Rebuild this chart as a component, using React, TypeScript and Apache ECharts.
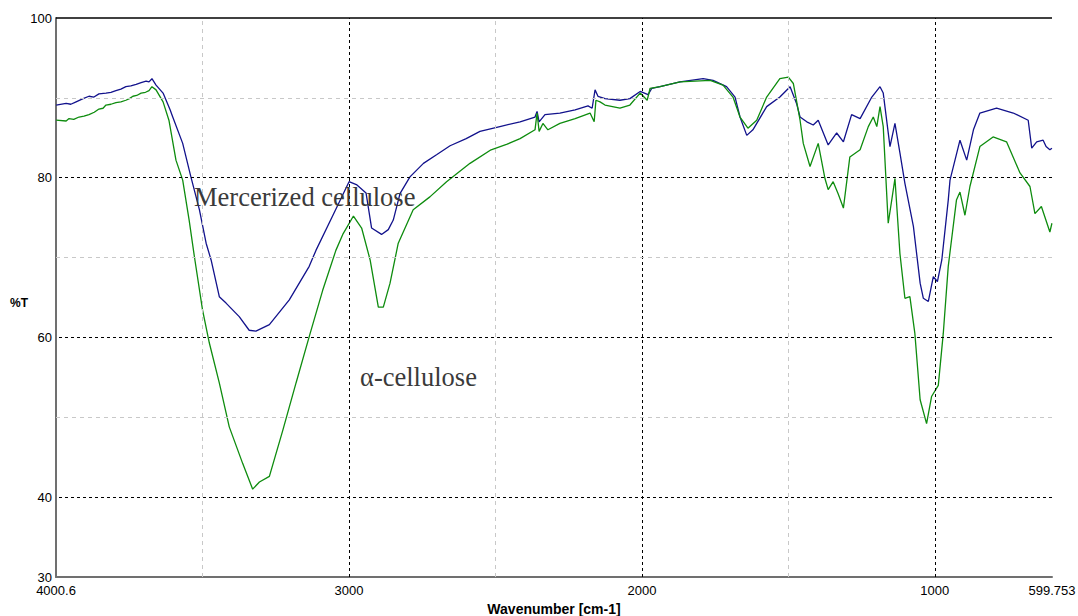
import React, { useEffect, useRef } from "react";
import * as echarts from "echarts";

// FTIR transmittance spectra, wavenumber (cm-1) vs %T
const mercWn = [4000, 3966, 3950, 3932, 3908, 3888, 3871, 3854, 3830, 3813, 3796, 3779, 3762, 3745, 3727, 3710, 3693, 3683, 3673, 3659, 3635, 3611, 3602, 3568, 3540, 3511, 3488, 3471, 3443, 3420, 3375, 3341, 3318, 3272, 3204, 3136, 3113, 3055, 3000, 2973, 2942, 2923, 2889, 2866, 2849, 2826, 2792, 2746, 2700, 2655, 2600, 2553, 2485, 2416, 2365, 2358, 2351, 2331, 2280, 2228, 2184, 2170, 2160, 2150, 2126, 2075, 2041, 2006, 1979, 1966, 1938, 1870, 1791, 1757, 1711, 1682, 1665, 1642, 1621, 1574, 1529, 1494, 1472, 1460, 1437, 1415, 1398, 1364, 1335, 1312, 1284, 1255, 1215, 1187, 1176, 1153, 1136, 1119, 1102, 1073, 1050, 1039, 1022, 1005, 991, 976, 954, 948, 914, 891, 868, 846, 789, 732, 681, 669, 652, 630, 620, 607, 600];
const mercT = [89.1, 89.3, 89.2, 89.5, 89.9, 90.2, 90.1, 90.5, 90.6, 90.7, 90.9, 91.1, 91.4, 91.5, 91.7, 91.9, 92.1, 92.0, 92.4, 91.6, 90.6, 88.5, 87.6, 84.3, 80.1, 76.0, 71.8, 69.7, 65.1, 64.3, 62.6, 60.9, 60.8, 61.6, 64.7, 68.9, 70.9, 75.3, 79.5, 79.1, 78.1, 73.7, 72.9, 73.5, 74.7, 78.0, 80.1, 81.8, 82.9, 84.0, 84.9, 85.8, 86.4, 87.0, 87.6, 88.3, 87.0, 87.9, 88.1, 88.5, 89.0, 88.7, 91.0, 90.2, 89.9, 89.7, 89.9, 90.8, 90.4, 91.2, 91.4, 92.0, 92.4, 92.2, 91.4, 90.1, 87.6, 85.3, 86.0, 88.9, 90.1, 91.4, 89.3, 87.6, 87.0, 86.6, 87.2, 84.1, 85.6, 84.5, 87.9, 87.4, 90.1, 91.4, 90.6, 83.9, 86.8, 83.1, 79.3, 73.9, 66.8, 64.9, 64.5, 67.6, 67.0, 69.7, 77.2, 79.7, 84.7, 82.2, 86.0, 88.1, 88.7, 88.1, 87.2, 83.7, 84.5, 84.7, 83.9, 83.5, 83.7];

const alphaWn = [4000, 3966, 3956, 3940, 3922, 3905, 3888, 3870, 3854, 3840, 3830, 3813, 3796, 3779, 3762, 3750, 3738, 3725, 3710, 3695, 3683, 3673, 3659, 3635, 3615, 3591, 3568, 3546, 3528, 3500, 3477, 3443, 3409, 3363, 3329, 3306, 3272, 3226, 3181, 3136, 3090, 3045, 3020, 2985, 2957, 2928, 2900, 2883, 2860, 2832, 2781, 2724, 2667, 2587, 2515, 2460, 2416, 2365, 2358, 2351, 2338, 2321, 2280, 2228, 2177, 2163, 2157, 2143, 2126, 2075, 2041, 2006, 1982, 1972, 1938, 1870, 1767, 1723, 1689, 1665, 1638, 1608, 1574, 1529, 1500, 1483, 1460, 1449, 1426, 1398, 1375, 1364, 1347, 1330, 1312, 1290, 1255, 1227, 1210, 1198, 1187, 1176, 1159, 1147, 1136, 1119, 1102, 1085, 1068, 1050, 1028, 1011, 988, 971, 954, 926, 914, 897, 880, 846, 801, 755, 709, 675, 658, 636, 607, 600];
const alphaT = [87.2, 87.1, 87.4, 87.3, 87.6, 87.7, 87.9, 88.2, 88.6, 88.7, 89.1, 89.2, 89.4, 89.5, 89.7, 89.9, 90.2, 90.3, 90.6, 90.7, 90.9, 91.4, 91.0, 89.5, 87.2, 82.2, 79.7, 74.7, 70.1, 63.4, 59.3, 54.3, 48.8, 44.2, 41.0, 41.9, 42.6, 48.4, 54.3, 60.1, 65.9, 70.9, 73.0, 75.2, 73.7, 69.7, 63.8, 63.8, 66.8, 71.8, 76.0, 77.6, 79.5, 81.8, 83.5, 84.2, 84.9, 86.0, 88.1, 85.8, 86.8, 86.0, 86.8, 87.4, 88.1, 87.0, 89.7, 89.5, 89.1, 88.7, 89.1, 90.6, 89.7, 91.2, 91.4, 92.0, 92.2, 91.6, 90.1, 87.6, 86.2, 87.2, 90.1, 92.4, 92.6, 91.8, 87.2, 84.3, 81.4, 84.3, 79.9, 78.5, 79.5, 78.0, 76.2, 82.6, 83.5, 86.4, 87.6, 86.4, 88.9, 86.4, 74.3, 77.2, 79.9, 70.5, 64.9, 65.1, 60.5, 52.2, 49.2, 52.6, 54.0, 60.5, 68.9, 77.2, 78.2, 75.3, 78.9, 83.9, 85.1, 84.5, 80.6, 78.9, 75.5, 76.4, 73.2, 74.3];

// Axis range and labels
const xMin = 599.753;
const xMax = 4000.6;
const xTickValues = [4000.6, 3000, 2000, 1000, 599.753];
const xTickLabels = ["4000.6", "3000", "2000", "1000", "599.753"];
const yTickValues = [30, 40, 60, 80, 100];
const xMajorGrid = [3000, 2000, 1000];
const xMinorGrid = [3500, 2500, 1500];
const yMajorGrid = [80, 60, 40];
const yMinorGrid = [90, 70, 50];

const seriesNames = ["Mercerized cellulose", "α-cellulose"];

const pairs = (xs: number[], ys: number[]) => xs.map((x, i) => [x, ys[i]]);

export default function App() {
  const ref = useRef<HTMLDivElement>(null);

  useEffect(() => {
    if (!ref.current) return;
    const chart = echarts.init(ref.current, null, { renderer: "svg" });

    const major = { type: [3, 3] as any, color: "#000", width: 1 };
    const minor = { type: [4, 4] as any, color: "#c8c8c8", width: 1 };

    const gridLines = [
      ...xMajorGrid.map((v) => ({ xAxis: v, lineStyle: major })),
      ...xMinorGrid.map((v) => ({ xAxis: v, lineStyle: minor })),
      ...yMajorGrid.map((v) => ({ yAxis: v, lineStyle: major })),
      ...yMinorGrid.map((v) => ({ yAxis: v, lineStyle: minor })),
      { yAxis: 100, lineStyle: { type: "solid", color: "#000", width: 1.5 } },
      { xAxis: xMin, lineStyle: { type: "solid", color: "#00e5ff", width: 2 } },
    ];

    const labelFont = { fontFamily: "Liberation Sans", fontSize: 13, color: "#000" };

    chart.setOption({
      animation: false,
      grid: { left: 56, right: 26, top: 18, bottom: 39, outerBoundsMode: "none", containLabel: false },
      xAxis: {
        type: "value",
        min: xMin,
        max: xMax,
        inverse: true,
        name: "Wavenumber [cm-1]",
        nameLocation: "middle",
        nameGap: 22,
        nameTextStyle: { fontFamily: "Liberation Sans", fontSize: 14, fontWeight: "bold", color: "#000" },
        axisLine: { show: true, onZero: false, lineStyle: { color: "#707070", width: 2 } },
        axisTick: { show: false },
        splitLine: { show: false },
        axisLabel: {
          ...labelFont,
          margin: 7,
          customValues: xTickValues,
          formatter: (v: number) => {
            const i = xTickValues.findIndex((t) => Math.abs(t - v) < 1e-6);
            return i >= 0 ? xTickLabels[i] : "";
          },
        },
      },
      yAxis: {
        type: "value",
        min: 30,
        max: 100,
        axisLine: { show: true, lineStyle: { color: "#707070", width: 2 } },
        axisTick: { show: false },
        splitLine: { show: false },
        axisLabel: { ...labelFont, margin: 4, customValues: yTickValues },
      },
      graphic: [
        {
          type: "text",
          x: 19,
          y: 303,
          style: { text: "%T", font: "bold 12px 'Liberation Sans'", fill: "#000", align: "center", verticalAlign: "middle" },
        },
        {
          type: "text",
          x: 194,
          y: 197,
          z: 10,
          style: { text: seriesNames[0], font: "26.5px 'Liberation Serif'", fill: "#3a3a3a", align: "left", verticalAlign: "middle" },
        },
        {
          type: "text",
          x: 360,
          y: 377,
          z: 10,
          style: { text: seriesNames[1], font: "26.5px 'Liberation Serif'", fill: "#3a3a3a", align: "left", verticalAlign: "middle" },
        },
      ],
      series: [
        {
          type: "line",
          data: [],
          z: 1,
          markLine: {
            silent: true,
            symbol: ["none", "none"],
            label: { show: false },
            data: gridLines,
          },
        },
        {
          name: seriesNames[0],
          type: "line",
          data: pairs(mercWn, mercT),
          showSymbol: false,
          z: 3,
          lineStyle: { color: "#12128c", width: 1.3 },
        },
        {
          name: seriesNames[1],
          type: "line",
          data: pairs(alphaWn, alphaT),
          showSymbol: false,
          z: 4,
          lineStyle: { color: "#0e8c0e", width: 1.3 },
        },
      ],
    });

    return () => chart.dispose();
  }, []);

  return (
    <div
      ref={ref}
      style={{ position: "absolute", left: 0, top: 0, width: 1078, height: 616, background: "#fff" }}
    />
  );
}
